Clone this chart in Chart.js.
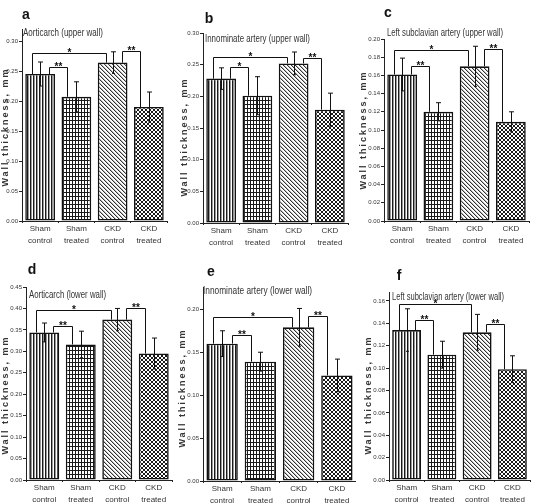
<!DOCTYPE html>
<html><head><meta charset="utf-8">
<script src="https://cdn.jsdelivr.net/npm/chart.js@4/dist/chart.umd.min.js"></script>
<style>
body{margin:0;background:#fff;width:534px;height:504px;position:relative;overflow:hidden}
.p{position:absolute}
</style></head><body>
<script>
// ---- data ----
const categories = [['Sham','control'],['Sham','treated'],['CKD','control'],['CKD','treated']];
const letters = ['a','b','c','d','e','f'];
const titles = ['Aorticarch (upper wall)','Innominate artery (upper wall)','Left subclavian artery (upper wall)',
                'Aorticarch (lower wall)','Innominate artery (lower wall)','Left subclavian artery (lower wall)'];
const yTitle = 'Wall thickness, mm';

const meanA = [0.245, 0.207, 0.264, 0.190];
const sdA   = [0.020, 0.025, 0.018, 0.025];
const meanB = [0.228, 0.201, 0.252, 0.179];
const sdB   = [0.017, 0.030, 0.018, 0.026];
const meanC = [0.161, 0.120, 0.170, 0.109];
const sdC   = [0.018, 0.010, 0.022, 0.011];
const meanD = [0.344, 0.316, 0.374, 0.295];
const sdD   = [0.022, 0.031, 0.026, 0.036];
const meanE = [0.160, 0.139, 0.179, 0.123];
const sdE   = [0.015, 0.011, 0.022, 0.019];
const meanF = [0.134, 0.112, 0.132, 0.099];
const sdF   = [0.019, 0.012, 0.016, 0.012];

const ticksA = [0, 0.05, 0.10, 0.15, 0.20, 0.25, 0.30];
const ticksB = [0, 0.05, 0.10, 0.15, 0.20, 0.25, 0.30];
const ticksC = [0, 0.02, 0.04, 0.06, 0.08, 0.10, 0.12, 0.14, 0.16, 0.18, 0.20];
const ticksD = [0, 0.05, 0.10, 0.15, 0.20, 0.25, 0.30, 0.35, 0.40, 0.45];
const ticksE = [0, 0.05, 0.10, 0.15, 0.20];
const ticksF = [0, 0.02, 0.04, 0.06, 0.08, 0.10, 0.12, 0.14, 0.16];
const yMax = [0.32, 0.30, 0.20, 0.45, 0.226, 0.168];

// significance brackets: [from group, to group, level, label]
const sigA = [[0,2,0.280,'*'],[0,1,0.257,'**'],[2,3,0.283,'**']];
const sigB = [[0,2,0.262,'*'],[0,1,0.247,'*'],[2,3,0.261,'**']];
const sigC = [[0,2,0.188,'*'],[0,1,0.170,'**'],[2,3,0.189,'**']];
const sigD = [[0,2,0.396,'*'],[0,1,0.358,'**'],[2,3,0.400,'**']];
const sigE = [[0,2,0.191,'*'],[0,1,0.170,'**'],[2,3,0.192,'**']];
const sigF = [[0,2,0.157,'*'],[0,1,0.143,'**'],[2,3,0.139,'**']];

// ---- layout (page pixels) ----
const layouts = [
  {box:[0,0,178,250],   area:[22,29,167,221],  letter:[26,15],  title:[23,33,80],  ytitle:[6,127]},
  {box:[178,0,178,250], area:[203,33,348,223], letter:[209,19], title:[205,39,105], ytitle:[185,137]},
  {box:[356,0,178,250], area:[384,39,529,221], letter:[388,13], title:[387,33,116], ytitle:[364,130]},
  {box:[0,250,178,254], area:[26,287,172,480], letter:[32,270], title:[29,295,77], ytitle:[6,395]},
  {box:[178,250,178,254], area:[203,287,356,481], letter:[211,272], title:[203,291,109], ytitle:[183,388]},
  {box:[356,250,178,254], area:[389,292,530,480], letter:[399,276], title:[392,297,112], ytitle:[369,395]}
];
const panels = [
  {mean:meanA, sd:sdA, ticks:ticksA, sig:sigA},
  {mean:meanB, sd:sdB, ticks:ticksB, sig:sigB},
  {mean:meanC, sd:sdC, ticks:ticksC, sig:sigC},
  {mean:meanD, sd:sdD, ticks:ticksD, sig:sigD},
  {mean:meanE, sd:sdE, ticks:ticksE, sig:sigE},
  {mean:meanF, sd:sdF, ticks:ticksF, sig:sigF}
];

const NARROW = '"Liberation Sans Narrow", "Arial Narrow", "Liberation Sans", Arial, sans-serif';
const SANS = '"Liberation Sans", Arial, sans-serif';

function makePattern(kind){
  const c = document.createElement('canvas');
  const ctx = c.getContext('2d');
  let w=4,h=4;
  if(kind===0){w=3;h=3;}
  if(kind===1){w=3;h=4;}
  c.width=w;c.height=h;
  ctx.fillStyle='#fff';ctx.fillRect(0,0,w,h);
  ctx.fillStyle='#1a1a1a';
  if(kind===0){ctx.fillRect(0,0,1,h);ctx.fillStyle='#999';ctx.fillRect(1,0,1,h);}
  else if(kind===1){ctx.fillRect(0,0,1,h);ctx.fillRect(0,0,w,1);}
  else if(kind===2){ctx.fillStyle='#333';for(let i=0;i<4;i++)ctx.fillRect(i,i,1,1);ctx.fillStyle='#bbb';for(let i=0;i<4;i++)ctx.fillRect((i+1)%4,i,1,1);}
  else {for(let i=0;i<4;i++){ctx.fillRect(i,i,1,1);ctx.fillRect(i,3-i,1,1);}}
  return document.createElement('canvas').getContext('2d').createPattern(c,'repeat');
}
const fills = [0,1,2,3].map(makePattern);

const overlay = {
  id:'overlay',
  afterDatasetsDraw(chart){
    const o = chart.options.plugins.overlay;
    const ctx = chart.ctx, ys = chart.scales.y;
    const meta = chart.getDatasetMeta(0);
    ctx.save();
    ctx.strokeStyle='#111'; ctx.lineWidth=1;
    meta.data.forEach((bar,i)=>{
      const x = Math.round(bar.x)+0.5;
      const yt = ys.getPixelForValue(o.mean[i]+o.sd[i]);
      const yb = ys.getPixelForValue(o.mean[i]-o.sd[i]);
      ctx.beginPath();
      ctx.moveTo(x,yt);ctx.lineTo(x,yb);
      ctx.moveTo(x-2.5,yt);ctx.lineTo(x+2.5,yt);
      ctx.moveTo(x-1.5,yb);ctx.lineTo(x+1.5,yb);
      ctx.stroke();
    });
    ctx.fillStyle='#111';
    ctx.textAlign='center';ctx.textBaseline='alphabetic';
    ctx.font='bold 10px '+SANS;
    o.sig.forEach(s=>{
      const b0 = meta.data[s[0]], b1 = meta.data[s[1]];
      const w = b0.width;
      let xa, xb;
      if(s[1]-s[0]>1){ xa = b0.x-0.28*w; xb = b1.x-0.22*w; }
      else { xa = b0.x+0.3*w; xb = b1.x-0.3*w; }
      xa=Math.round(xa)+0.5; xb=Math.round(xb)+0.5;
      const yl = Math.round(ys.getPixelForValue(s[2]))+0.5;
      ctx.beginPath();
      ctx.moveTo(xa, ys.getPixelForValue(o.mean[s[0]]));
      ctx.lineTo(xa, yl); ctx.lineTo(xb, yl);
      ctx.lineTo(xb, ys.getPixelForValue(o.mean[s[1]]));
      ctx.stroke();
      ctx.fillText(s[3], (xa+xb)/2, yl+2);
    });
    ctx.restore();
  },
  afterDraw(chart){
    const o = chart.options.plugins.overlay;
    const L = o.layout, x0=L.box[0], y0=L.box[1];
    const ctx = chart.ctx;
    ctx.save();
    ctx.fillStyle='#111';
    ctx.font='bold 14px '+SANS;
    ctx.textAlign='center';ctx.textBaseline='middle';
    ctx.fillText(o.letter, L.letter[0]-x0, L.letter[1]-y0);
    // subtitle, condensed to the panel's width
    ctx.save();
    ctx.fillStyle='#333';
    ctx.font='11px '+NARROW;
    ctx.textAlign='left';
    const mw = ctx.measureText(o.title).width;
    ctx.translate(L.title[0]-x0, L.title[1]-y0);
    ctx.scale(L.title[2]/mw,1);
    ctx.fillText(o.title,0,0);
    ctx.restore();
    ctx.translate(L.ytitle[0]-x0, L.ytitle[1]-y0);
    ctx.rotate(-Math.PI/2);
    ctx.textAlign='center';
    ctx.font='bold 9px '+SANS;
    ctx.letterSpacing='2px';
    ctx.fillStyle='#333';
    ctx.fillText(yTitle,0,0);
    ctx.restore();
  }
};

panels.forEach((p,k)=>{
  const L = layouts[k];
  const [x0,y0,w,h] = L.box;
  const [aL,aT,aR,aB] = L.area;
  const div = document.createElement('div');
  div.className='p';
  div.style.left=x0+'px';div.style.top=y0+'px';div.style.width=w+'px';div.style.height=h+'px';
  const cv = document.createElement('canvas');
  cv.width=w;cv.height=h;cv.style.width=w+'px';cv.style.height=h+'px';
  div.appendChild(cv);document.body.appendChild(div);
  new Chart(cv,{
    type:'bar',
    data:{labels:categories,datasets:[{data:p.mean,backgroundColor:fills,borderColor:'#111',borderWidth:1.6,borderSkipped:false,barPercentage:0.82,categoryPercentage:1}]},
    options:{
      responsive:false,animation:false,devicePixelRatio:1,
      layout:{padding:{top:aT-y0,right:x0+w-aR,left:0,bottom:0}},
      plugins:{legend:{display:false},tooltip:{enabled:false},
        overlay:{mean:p.mean,sd:p.sd,sig:p.sig,layout:L,letter:letters[k],title:titles[k]}},
      scales:{
        x:{
          grid:{display:true,drawOnChartArea:false,tickLength:2,color:'#222',offset:true},
          border:{color:'#222',width:1},
          ticks:{font:{family:NARROW,size:8,lineHeight:1.45},color:'#333',padding:0,maxRotation:0,autoSkip:false},
          afterFit(s){s.height=y0+h-aB;}
        },
        y:{
          min:0,max:yMax[k],
          afterBuildTicks(s){s.ticks=p.ticks.map(v=>({value:v}));},
          ticks:{font:{family:NARROW,size:6},color:'#333',padding:1,callback:v=>Number(v).toFixed(2)},
          grid:{drawOnChartArea:false,tickLength:3,color:'#222'},
          border:{color:'#222',width:1},
          afterFit(s){s.width=aL-x0;}
        }
      }
    },
    plugins:[overlay]
  });
});
</script>
</body></html>
